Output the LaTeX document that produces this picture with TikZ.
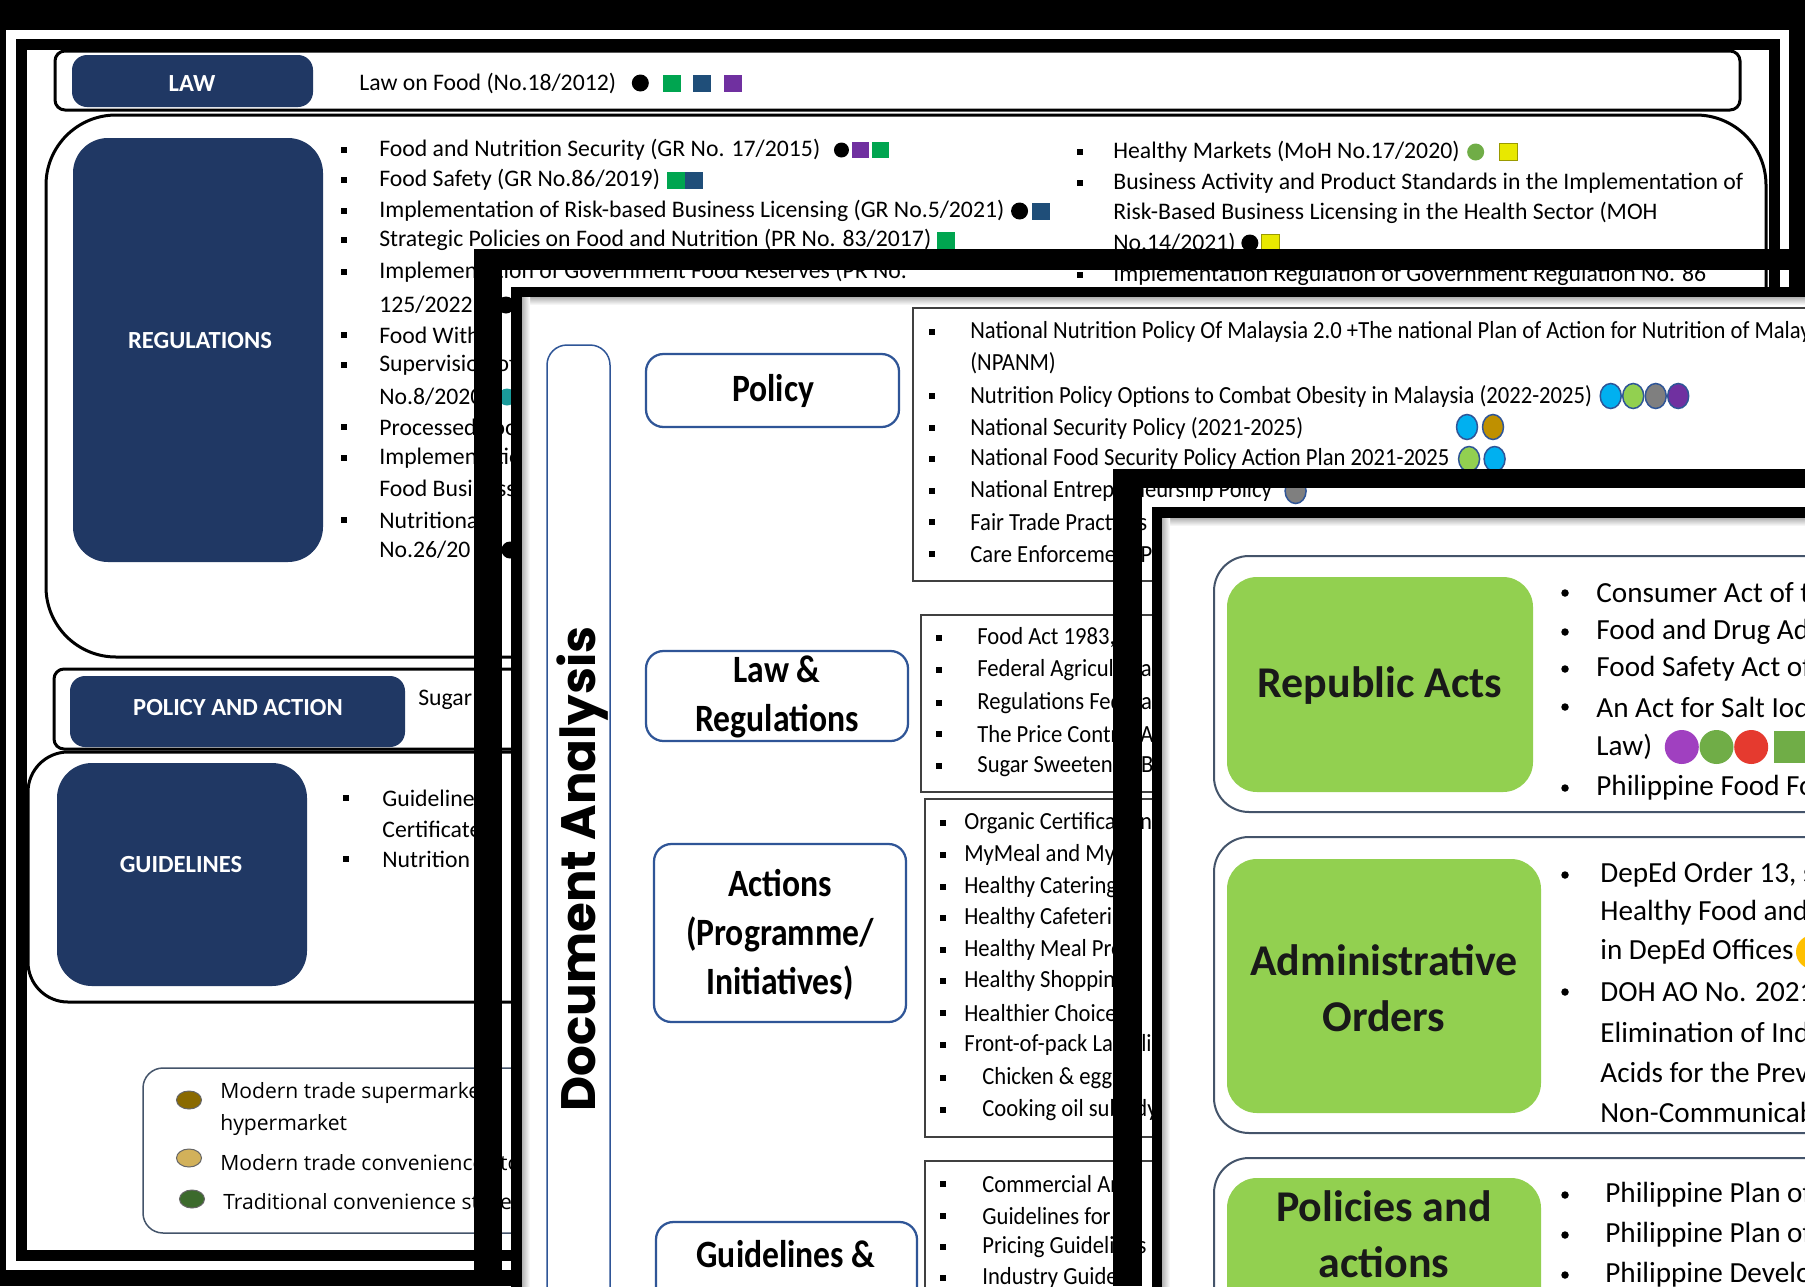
\documentclass[tikz,border=0pt]{standalone}
\usepackage{fontspec}
\setmainfont{Carlito}
\newfontfamily\narrowfont[FakeStretch=0.92]{Carlito}
\newfontfamily\tagfont[FakeStretch=0.87]{Carlito}
\newfontfamily\legendfont{Open Sans}
\newfontfamily\headfont{Poppins}
\usetikzlibrary{positioning, shapes.geometric}

\definecolor{navyA}{HTML}{203864}
\definecolor{gnA}{HTML}{00A550}
\definecolor{bluA}{HTML}{1F4E79}
\definecolor{purA}{HTML}{7030A0}
\definecolor{yelA}{HTML}{E8E800}
\definecolor{oliveA}{HTML}{9A9A00}
\definecolor{leafA}{HTML}{70AD47}
\definecolor{tealA}{HTML}{1A9A9A}
\definecolor{gold1}{HTML}{8A6A00}
\definecolor{gold2}{HTML}{D2B15A}
\definecolor{forest1}{HTML}{3C6A2C}
\definecolor{edgeB}{HTML}{2F5597}
\definecolor{skyB}{HTML}{00B0F0}
\definecolor{limeB}{HTML}{92D050}
\definecolor{greyB}{HTML}{7F7F7F}
\definecolor{ochreB}{HTML}{BF9000}
\definecolor{limeC}{HTML}{92D050}
\definecolor{slateC}{HTML}{44546A}
\definecolor{plumC}{HTML}{A040C0}
\definecolor{redC}{HTML}{E53A2F}
\definecolor{amberC}{HTML}{FFC000}

\tikzset{
  labelA/.style={text=white, font=\fontsize{14}{16}\selectfont\bfseries},
  itemA/.style={anchor=west, inner sep=0pt, font=\fontsize{13.5}{15}\selectfont},
  itemL/.style={anchor=west, inner sep=0pt, font=\legendfont\fontsize{12}{14}\selectfont},
  itemB/.style={anchor=west, inner sep=0pt, font=\narrowfont\fontsize{14}{16}\selectfont},
  labelB/.style={align=center, font=\tagfont\bfseries\fontsize{22}{28}\selectfont},
  itemC/.style={anchor=west, inner sep=0pt, font=\fontsize{16.6}{20}\selectfont},
  labelC/.style={align=center, text=black!90, font=\bfseries\fontsize{25}{32}\selectfont},
  mkdot/.style={circle, inner sep=0pt, minimum size=3.4mm, fill=#1},
  mksq/.style={rectangle, inner sep=0pt, minimum width=3.6mm, minimum height=3.4mm, fill=#1},
  mkoval/.style={ellipse, inner sep=0pt, minimum width=4.2mm, minimum height=5mm, fill=#1, draw=edgeB, line width=0.3mm},
  mkball/.style={circle, inner sep=0pt, minimum size=6.8mm, fill=#1},
  keyoval/.style={ellipse, inner sep=0pt, minimum width=5mm, minimum height=3.6mm, fill=#1, draw=black!60, line width=0.2mm},
  tagbox/.style={draw=edgeB, line width=0.45mm, rounded corners=3.5mm},
  listbox/.style={draw=black!75, line width=0.3mm},
}

\begin{document}
\begin{tikzpicture}[x=0.2mm, y=-0.2mm]
\useasboundingbox (0,0) rectangle (1805,1286);
\clip (0,0) rectangle (1805,1286);
\fill (0,0) rectangle (1805,1286);

% ---------- sheet 1 ----------
\fill[white] (6,30) rectangle (1789,1270);
\draw[line width=2.2mm] (21.5,44) rectangle (1774,1255);

% law row
\draw[line width=0.6mm, rounded corners=2mm] (55,51) rectangle (1740,110);
\fill[navyA, rounded corners=3mm] (72,55) rectangle (313,107);
\node[labelA] (law) at (192,84) {LAW};
\node[itemA] (lawtxt) at (359,83) {Law on Food (No.18/2012)};
\node[mkdot=black, right=3mm of lawtxt] (lawm1) {};
\node[mksq=gnA, right=2.6mm of lawm1] (lawm2) {};
\node[mksq=bluA, right=2.4mm of lawm2] (lawm3) {};
\node[mksq=purA, right=2.4mm of lawm3] (lawm4) {};

% regulations
\draw[line width=0.6mm, rounded corners=14mm] (46,115) rectangle (1766,657);
\fill[navyA, rounded corners=7mm] (73,138) rectangle (323,562);
\node[labelA] (regs) at (200,341) {REGULATIONS};

\foreach \y/\txt in {150/{Food and Nutrition Security (GR No. 17/2015)},
    180/{Food Safety (GR No.86/2019)},
    211/{Implementation of Risk-based Business Licensing (GR No.5/2021)},
    240/{Strategic Policies on Food and Nutrition (PR No. 83/2017)},
    272/{Implementation of Government Food Reserves (PR No.},
    305/{125/2022}, 335/{Food With}, 365/{Supervision of}, 397/{No.8/2020},
    427/{Processed Food}, 458/{Implementation of}, 488/{Food Business},
    520/{Nutritional}, 550/{No.26/20}}
  \node[itemA] (regA\y) at (379,\y) {\txt};
\foreach \y in {150,180,211,240,272,335,365,427,458,520}
  \fill (341,\y-3) rectangle ++(6,6);

\node[mkdot=black, right=2.6mm of regA150, minimum size=3mm] (m150a) {};
\node[mksq=purA, right=0.4mm of m150a, minimum width=3.4mm, minimum height=3.2mm] (m150b) {};
\node[mksq=gnA, right=0.6mm of m150b, minimum width=3.4mm, minimum height=3.2mm] (m150c) {};
\node[mksq=gnA, right=1.2mm of regA180] (m180a) {};
\node[mksq=bluA, right=0mm of m180a] (m180b) {};
\node[mkdot=black, right=1.2mm of regA211] (m211a) {};
\node[mksq=bluA, right=0.6mm of m211a] (m211b) {};
\node[mksq=gnA, right=1mm of regA240] (m240a) {};
\node[mkdot=black] (gapm1) at (506,305) {};
\node[mkdot=tealA] (gapm2) at (507,397) {};
\node[mkdot=black] (gapm3) at (510,550) {};

\foreach \y/\txt in {152/{Healthy Markets (MoH No.17/2020)},
    183/{Business Activity and Product Standards in the Implementation of},
    213/{Risk-Based Business Licensing in the Health Sector (MOH},
    243/{No.14/2021)},
    275/{Implementation Regulation of Government Regulation No. 86}}
  \node[itemA] (regB\y) at (1113,\y) {\txt};
\foreach \y in {152,183,275}
  \fill (1077,\y-3) rectangle ++(6,6);
\node[mkdot=leafA, right=1.4mm of regB152] (m152a) {};
\node[mksq=yelA, draw=oliveA, line width=0.3mm, right=2.8mm of m152a] (m152b) {};
\node[mkdot=black, right=1mm of regB243] (m243a) {};
\node[mksq=yelA, draw=oliveA, line width=0.3mm, right=0.4mm of m243a] (m243b) {};

% policy and action
\draw[line width=0.6mm, rounded corners=2mm] (54,669) rectangle (1000,749);
\fill[navyA, rounded corners=3mm] (70,676) rectangle (405,747);
\node[labelA] (polact) at (238,708) {POLICY AND ACTION};
\node[itemA] (sugar) at (418,700) {Sugar};

% guidelines
\draw[line width=0.6mm, rounded corners=8mm] (28,752) rectangle (1000,1002);
\fill[navyA, rounded corners=7mm] (57,763) rectangle (307,986);
\node[labelA] (guide) at (181,865) {GUIDELINES};
\foreach \y/\txt in {798/{Guideline}, 829/{Certificate}, 859/{Nutrition}}
  \node[itemA] (gdA\y) at (382,\y) {\txt};
\foreach \y in {798,859}
  \fill (343,\y-3) rectangle ++(6,6);

% legend
\draw[slateC, line width=0.3mm, rounded corners=4mm] (143,1068) rectangle (1000,1233);
\node[keyoval=gold1] (key1) at (189,1100) {};
\node[keyoval=gold2] (key2) at (189,1158) {};
\node[keyoval=forest1] (key3) at (192,1199) {};
\node[itemL] (keytx1) at (220,1093) {Modern trade supermarket};
\node[itemL] (keytx1b) at (220,1125) {hypermarket};
\node[itemL] (keytx2) at (220,1163) {Modern trade convenience store};
\node[itemL] (keytx3) at (223,1202) {Traditional convenience store};

% ---------- sheet 2 ----------
\fill (474,249) rectangle (1805,270);
\fill (474,249) rectangle (502,1286);
\draw[line width=2.1mm, fill=white] (516.5,292) rectangle (1900,1400);
\shade[top color=black!30, bottom color=white] (522,297) rectangle (1805,305);
\shade[left color=black!30, right color=white] (522,297) rectangle (530,1286);

\draw[edgeB, line width=0.3mm, rounded corners=4mm] (547,345) rectangle (610,1330);
\node[rotate=90, font=\headfont\bfseries\fontsize{27.5}{30}\selectfont] (docan) at (583,869) {Document Analysis};

\draw[tagbox] (646,354) rectangle (899,427);
\node[labelB] (policy) at (773,391) {Policy};
\draw[tagbox] (646,651) rectangle (908,741);
\node[labelB] (lawreg) at (777,697) {Law \&\\Regulations};
\draw[tagbox] (654,844) rectangle (906,1022);
\node[labelB] (actions) at (780,935) {Actions\\(Programme/\\Initiatives)};
\draw[tagbox] (656,1222) rectangle (917,1340);
\node[labelB] (guides) at (786,1254) {Guidelines \&};

% policy list
\draw[listbox] (913,308) rectangle (1900,581);
\foreach \y/\txt in {332/{National Nutrition Policy Of Malaysia 2.0 +The national Plan of Action for Nutrition of Malay},
    396/{Nutrition Policy Options to Combat Obesity in Malaysia (2022-2025)},
    428/{National Security Policy (2021-2025)},
    459/{National Food Security Policy Action Plan 2021-2025},
    491/{National Entrepreneurship Policy},
    522/{Fair Trade Practices}, 554/{Care Enforcement P}}
  {\node[itemB] (pol\y) at (970,\y) {\txt};
   \fill (929,\y-3) rectangle ++(6,6);}
\node[itemB] (pol363) at (970,363) {(NPANM)};
\node[mkoval=skyB, right=1.4mm of pol396] (ob1) {};
\node[mkoval=limeB, right=0mm of ob1] (ob2) {};
\node[mkoval=greyB, right=0mm of ob2] (ob3) {};
\node[mkoval=purA, right=0mm of ob3] (ob4) {};
\node[mkoval=skyB] (sec1) at (1467,427) {};
\node[mkoval=ochreB] (sec2) at (1493,427) {};
\node[mkoval=limeB, right=1.6mm of pol459] (fs1) {};
\node[mkoval=skyB, right=0.6mm of fs1] (fs2) {};
\node[mkoval=greyB, right=2.4mm of pol491] (ent1) {};

% law list
\draw[listbox] (921,615) rectangle (1900,792);
\foreach \y/\txt in {638/{Food Act 1983,}, 670/{Federal Agricultural},
    703/{Regulations Federal}, 734/{The Price Control A}, 766/{Sugar Sweetened B}}
  {\node[itemB] (lr\y) at (977,\y) {\txt};
   \fill (936,\y-3) rectangle ++(6,6);}

% actions list
\draw[listbox] (925,799) rectangle (1900,1137);
\foreach \y/\txt in {823/{Organic Certification}, 855/{MyMeal and My},
    887/{Healthy Catering}, 918/{Healthy Cafeteria}, 950/{Healthy Meal Provi},
    981/{Healthy Shopping}, 1013/{Healthier Choice}, 1045/{Front-of-pack Labelling}}
  {\node[itemB] (ac\y) at (964,\y) {\txt};
   \fill (940,\y-3) rectangle ++(6,6);}
\foreach \y/\txt in {1078/{Chicken \& egg}, 1110/{Cooking oil subsidy}}
  {\node[itemB] (ac\y) at (982,\y) {\txt};
   \fill (940,\y-3) rectangle ++(6,6);}

% guidelines list
\draw[listbox] (925,1161) rectangle (1900,1400);
\foreach \y/\txt in {1184/{Commercial Ar}, 1216/{Guidelines for},
    1247/{Pricing Guidelines}, 1278/{Industry Guide}}
  {\node[itemB] (gl\y) at (982,\y) {\txt};
   \fill (940,\y-3) rectangle ++(6,6);}

% ---------- sheet 3 ----------
\fill (1113,469) rectangle (1805,488);
\fill (1113,469) rectangle (1142,1286);
\draw[line width=2.1mm, fill=white] (1157,512.5) rectangle (1900,1400);
\shade[top color=black!30, bottom color=white] (1162,518) rectangle (1805,526);
\shade[left color=black!30, right color=white] (1162,518) rectangle (1170,1286);

% republic acts
\draw[slateC, line width=0.4mm, rounded corners=7mm] (1214,556) rectangle (1900,812);
\fill[limeC, rounded corners=6mm] (1227,577) rectangle (1533,792);
\node[labelC] (repacts) at (1380,686) {Republic Acts};
\foreach \y/\txt in {593/{Consumer Act of t}, 632/{Food and Drug Ad},
    669/{Food Safety Act of}, 707/{An Act for Salt Iod}, 788/{Philippine Food Fo}}
  {\node[itemC] (ra\y) at (1596,\y) {\txt};
   \fill (1565,\y) circle (0.75mm);}
\node[itemC] (ra747) at (1596,747) {Law)};
\node[mkball=plumC, right=2.4mm of ra747] (ball1) {};
\node[mkball=leafA, right=0mm of ball1] (ball2) {};
\node[mkball=redC, right=0mm of ball2] (ball3) {};
\node[mksq=leafA, minimum width=6.4mm, minimum height=6.4mm, right=1mm of ball3] (ball4) {};

% administrative orders
\draw[slateC, line width=0.4mm, rounded corners=7mm] (1214,837) rectangle (1900,1133);
\fill[limeC, rounded corners=6mm] (1227,859) rectangle (1541,1113);
\node[labelC] (admord) at (1384,988) {Administrative\\Orders};
\foreach \y/\txt in {875/{DepEd Order 13, s}, 913/{Healthy Food and},
    952/{in DepEd Offices}, 992/{DOH AO No. 2021}, 1032/{Elimination of Ind},
    1072/{Acids for the Prev}, 1112/{Non-Communicab}}
  \node[itemC] (ao\y) at (1600,\y) {\txt};
\foreach \y in {875,992}
  \fill (1565,\y) circle (0.75mm);
\node[mkball=amberC] (ball5) at (1813,952) {};

% policies and actions
\draw[slateC, line width=0.4mm, rounded corners=7mm] (1214,1158) rectangle (1900,1400);
\fill[limeC, rounded corners=6mm] (1227,1178) rectangle (1541,1360);
\node[labelC] (polacts) at (1384,1234) {Policies and\\actions};
\foreach \y/\txt in {1195/{Philippine Plan of}, 1235/{Philippine Plan of},
    1275/{Philippine Develo}}
  {\node[itemC] (pa\y) at (1605,\y) {\txt};
   \fill (1565,\y) circle (0.75mm);}
\end{tikzpicture}
\end{document}
